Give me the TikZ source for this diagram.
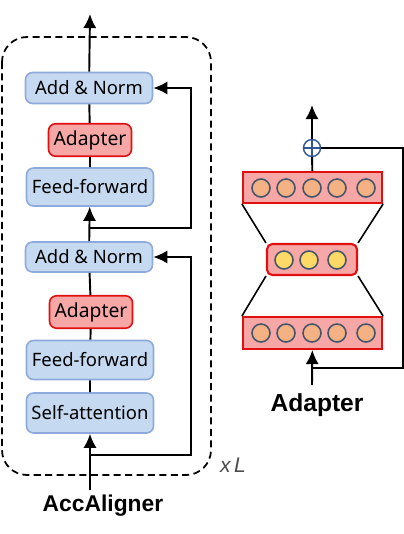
\documentclass[tikz,border=0pt]{standalone}
\usepackage{fontspec}
\setmainfont{Liberation Sans}
\newfontfamily\boxfont{Noto Sans}
\usetikzlibrary{arrows.meta,calc}
\definecolor{blockblue}{HTML}{C5D9F1}
\definecolor{blockedge}{HTML}{8EA9DB}
\definecolor{adapink}{HTML}{F8A7A7}
\definecolor{adared}{HTML}{E01010}
\definecolor{unitorange}{HTML}{F4B183}
\definecolor{unityellow}{HTML}{FFD966}
\definecolor{unitedge}{HTML}{44546A}
\definecolor{plusedge}{HTML}{2F5597}
\begin{document}
\begin{tikzpicture}[x=0.02cm,y=-0.02cm,
  block/.style={draw=blockedge,fill=blockblue,line width=0.9pt,rounded corners=4pt,
    minimum width=2.54cm,minimum height=#1,inner sep=0pt,font=\boxfont\fontsize{10.5}{12}\selectfont},
  adapt/.style={draw=adared,fill=adapink,line width=0.9pt,rounded corners=4pt,
    minimum width=1.66cm,minimum height=0.65cm,inner sep=0pt,font=\boxfont\fontsize{11}{13}\selectfont},
  layer/.style={draw=adared,fill=adapink,line width=1.2pt,minimum width=2.78cm,minimum height=#1,inner sep=0pt},
  unit/.style={circle,draw=unitedge,fill=#1,line width=0.9pt,minimum size=0.36cm,inner sep=0pt},
  link/.style={line width=1.1pt},
  arr/.style={link,-{Latex[length=8pt,width=7.5pt]}},
  title/.style={font=\bfseries\fontsize{#1}{16}\selectfont},title/.default=13]
\useasboundingbox (0,0) rectangle (404,534);
% encoder layer
\draw[line width=1pt,dash pattern=on 4pt off 2.5pt,rounded corners=0.5cm] (2,37) rectangle (211,475);
\node[block=0.62cm] (an2) at (89,88) {Add \& Norm};
\node[adapt] (ad2) at (90,140) {Adapter};
\node[block=0.76cm] (ff2) at (90,187) {Feed-forward};
\node[block=0.6cm] (an1) at (89,257) {Add \& Norm};
\node[adapt] (ad1) at (91,312) {Adapter};
\node[block=0.78cm] (ff1) at (90,360) {Feed-forward};
\node[block=0.8cm] (sa) at (90,413) {Self-attention};
\coordinate (in) at (90,490);
\coordinate (r1) at (90,455);
\coordinate (r2) at (90,228);
\coordinate (out) at (90,14);
\draw[arr] (in) -- (sa);
\draw[link] (sa) -- (ff1) -- (ad1) -- (an1);
\draw[arr] (r1) -| ($(an1.east)+(38,0)$) -- (an1.east);
\draw[arr] (an1) -- (ff2);
\draw[link] (ff2) -- (ad2) -- (an2);
\draw[arr] (r2) -| ($(an2.east)+(38,0)$) -- (an2.east);
\draw[arr] (an2) -- (out);
\node[font=\itshape\fontsize{12}{14}\selectfont,text=black!70] (rep) at (233,465) {x\,L};
\node[title] (acc) at (103,506) {AccAligner};
% adapter
\node[layer=0.62cm] (up) at (312.5,187.5) {};
\node[layer=0.62cm,rounded corners=3pt,minimum width=1.8cm] (mid) at (312,259.5) {};
\node[layer=0.64cm] (down) at (312.5,333) {};
\foreach \x in {261,286,312,337,366} {
  \node[unit=unitorange] (u\x) at (\x,188) {};
  \node[unit=unitorange] (d\x) at (\x,333) {};
}
\foreach \x in {284,309,337}
  \node[unit=unityellow] (m\x) at (\x,260) {};
\draw[line width=0.9pt] (up.south west) -- (mid.north west);
\draw[line width=0.9pt] (up.south east) -- (mid.north east);
\draw[line width=0.9pt] (mid.south west) -- (down.north west);
\draw[line width=0.9pt] (mid.south east) -- (down.north east);
\node[circle,draw=plusedge,line width=0.8pt,minimum size=0.34cm,inner sep=0pt] (plus) at (312,148) {};
\draw[plusedge,line width=0.8pt] (plus.north) -- (plus.south) (plus.west) -- (plus.east);
\coordinate (ain) at (312,385);
\coordinate (rin) at (312,368);
\coordinate (aout) at (312,105);
\draw[arr] (ain) -- (down);
\draw[link] (rin) -| ($(plus.east)+(82,0)$) -- (plus.east);
\draw[link] (up) -- (plus);
\draw[arr] (plus) -- (aout);
\node[title=14] (adt) at (317,405) {Adapter};
\end{tikzpicture}
\end{document}
